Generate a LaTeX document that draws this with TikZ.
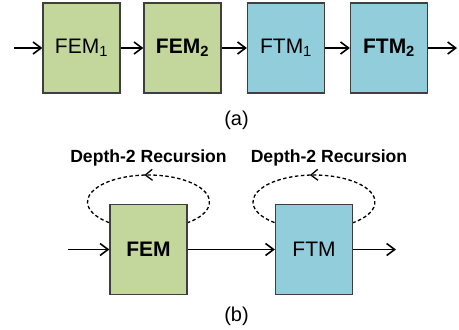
\documentclass[tikz,border=0pt]{standalone}
\usepackage{fontspec}
\setmainfont{Liberation Sans}
\usetikzlibrary{arrows.meta,decorations.markings,calc}
\definecolor{femgreen}{HTML}{C3D69B}
\definecolor{ftmblue}{HTML}{92CDDC}
\definecolor{edgegray}{HTML}{3F3F3F}
\tikzset{
  blockbox/.style={draw=edgegray,line width=1.3pt,minimum width=77pt,minimum height=90pt,inner sep=0pt,font=\fontsize{21}{23}\selectfont},
  fembox/.style={blockbox,fill=femgreen},
  ftmbox/.style={blockbox,fill=ftmblue},
  flow/.style={line width=1.6pt,-{Straight Barb[length=8pt,width=12pt,line width=1.6pt]}},
  loopline/.style={line width=1.3pt,dash pattern=on 3.5pt off 2.5pt,
    decoration={markings,mark=at position 0.52 with {\arrow{Straight Barb[length=7pt,width=11pt,line width=1.3pt]}}},postaction={decorate}},
  captext/.style={font=\fontsize{20}{22}\selectfont},
  rectext/.style={font=\bfseries\fontsize{17.6}{20}\selectfont}
}
\begin{document}
\begin{tikzpicture}[x=1pt,y=-1pt]
\useasboundingbox (0,0) rectangle (459,330);
% (a)
\node[fembox] (fem1) at (81.5,48) {FEM\textsubscript{1}};
\node[fembox] (fem2) at (182.5,48) {\bfseries FEM\textsubscript{2}};
\node[ftmbox] (ftm1) at (286,48) {FTM\textsubscript{1}};
\node[ftmbox] (ftm2) at (389,48) {\bfseries FTM\textsubscript{2}};
\coordinate (ain) at (14,48);
\coordinate (aout) at (457,48);
\draw[flow] (ain) -- (fem1);
\draw[flow] (fem1) -- (fem2);
\draw[flow] (fem2) -- (ftm1);
\draw[flow] (ftm1) -- (ftm2);
\draw[flow] (ftm2) -- (aout);
\node[captext] (capa) at (236.5,120) {(a)};
% (b)
\coordinate (lc) at (148.5,202);
\coordinate (rc) at (314,202);
\draw[loopline] ($(lc)+(51:61 and 27)$) arc[start angle=51,end angle=-231,x radius=61,y radius=27];
\draw[loopline] ($(rc)+(51:61 and 27)$) arc[start angle=51,end angle=-231,x radius=61,y radius=27];
\node[fembox] (fem) at (148.5,249.5) {\bfseries FEM};
\node[ftmbox] (ftm) at (314,249.5) {FTM};
\coordinate (bin) at (68,249.5);
\coordinate (bout) at (396,249.5);
\draw[flow] (bin) -- (fem);
\draw[flow] (fem) -- (ftm);
\draw[flow] (ftm) -- (bout);
\node[rectext] (reca) at (148.5,158) {Depth-2 Recursion};
\node[rectext] (recb) at (329,158) {Depth-2 Recursion};
\node[captext] (capb) at (236.5,316) {(b)};
\end{tikzpicture}
\end{document}
